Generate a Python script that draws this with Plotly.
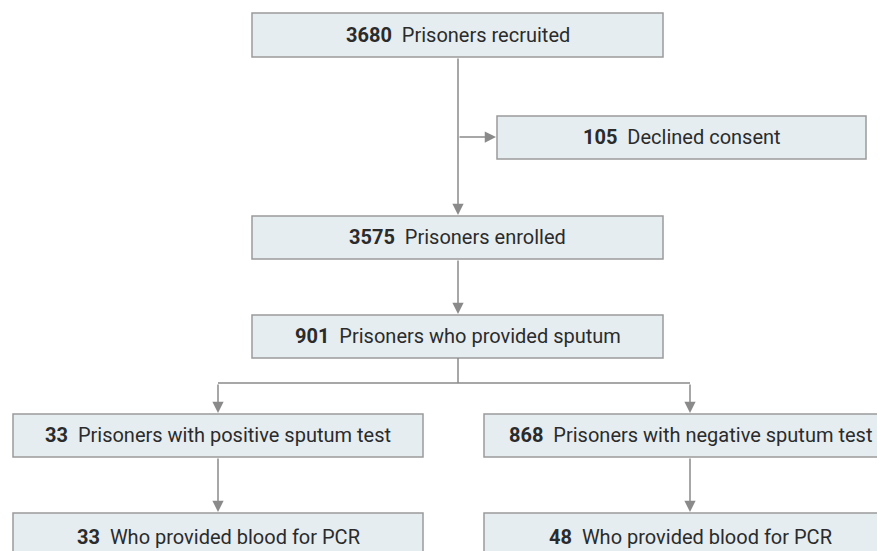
import plotly.graph_objects as go

# flow diagram content
counts = [3680, 105, 3575, 901, 33, 868, 33, 48]
labels = [
    "Prisoners recruited",
    "Declined consent",
    "Prisoners enrolled",
    "Prisoners who provided sputum",
    "Prisoners with positive sputum test",
    "Prisoners with negative sputum test",
    "Who provided blood for PCR",
    "Who provided blood for PCR",
]

FILL = "#e5edf1"
BORDER = "#9a9a9a"
LINE = "#8a8a8a"
TEXT = "#2b2b2b"
FONT = "Roboto, sans-serif"

# box geometry in pixel space (x0, y0, x1, y1)
boxes = [
    (252, 13, 663, 57),
    (497, 116, 866, 159),
    (252, 216, 663, 259),
    (252, 315, 663, 358),
    (13, 414, 423, 457),
    (484, 414, 894, 457),
    (13, 513, 423, 560),
    (484, 513, 894, 560),
]
text_y = [35, 137, 237, 336, 435, 435, 537, 537]

fig = go.Figure()

shapes = []
for (x0, y0, x1, y1) in boxes:
    shapes.append(dict(type="rect", x0=x0, y0=y0, x1=x1, y1=y1,
                       fillcolor=FILL, line=dict(color=BORDER, width=1.5), layer="below"))

# plain connector segments (no arrowheads)
segments = [
    (458, 358, 458, 383),
    (218, 383, 690, 383),
]
for (x0, y0, x1, y1) in segments:
    shapes.append(dict(type="line", x0=x0, y0=y0, x1=x1, y1=y1,
                       line=dict(color=LINE, width=1.5)))

annotations = []
for i, (x0, y0, x1, y1) in enumerate(boxes):
    cx = (x0 + x1) / 2
    if i >= 4:
        cx = 218 if i % 2 == 0 else 690
    annotations.append(dict(
        x=cx, y=text_y[i], xref="x", yref="y", showarrow=False,
        text=f"<b>{counts[i]}</b>  {labels[i]}",
        font=dict(family=FONT, size=20, color=TEXT),
        xanchor="center", yanchor="middle",
    ))

# arrows: (tail_x, tail_y, head_x, head_y)
arrows = [
    (458, 57, 458, 215),
    (458, 137, 496, 137),
    (458, 259, 458, 314),
    (218, 383, 218, 413),
    (690, 383, 690, 413),
    (218, 457, 218, 512),
    (690, 457, 690, 512),
]
for (tx, ty, hx, hy) in arrows:
    annotations.append(dict(
        x=hx, y=hy, ax=tx, ay=ty, xref="x", yref="y", axref="x", ayref="y",
        text="", showarrow=True, arrowhead=2, arrowsize=1.5, arrowwidth=1.5,
        arrowcolor=LINE, standoff=0, startstandoff=0,
    ))

# the page body has an 8px margin, so offset the ranges to keep pixel coords
fig.update_layout(
    width=885, height=551,
    margin=dict(l=0, r=0, t=0, b=0),
    paper_bgcolor="white", plot_bgcolor="white",
    xaxis=dict(range=[8, 893], visible=False, fixedrange=True),
    yaxis=dict(range=[559, 8], visible=False, fixedrange=True),
    shapes=shapes, annotations=annotations,
    showlegend=False,
)

fig.write_html("out.html")
